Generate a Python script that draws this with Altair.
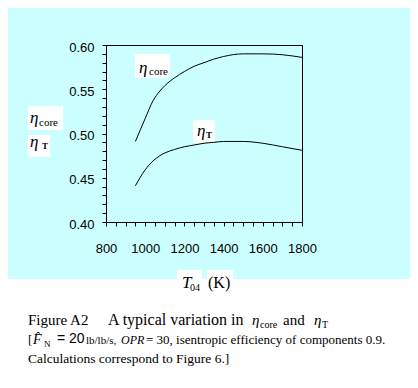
import altair as alt
import pandas as pd

# ---- data ----
t04 = [950, 1000, 1040, 1075, 1100, 1150, 1200, 1250, 1300, 1350, 1400, 1500, 1600, 1700, 1800]
eta_core = [0.491, 0.517, 0.537, 0.548, 0.554, 0.563, 0.570, 0.576, 0.580, 0.584, 0.587, 0.590, 0.590, 0.589, 0.586]
eta_t = [0.441, 0.459, 0.469, 0.475, 0.478, 0.482, 0.485, 0.487, 0.489, 0.490, 0.491, 0.491, 0.489, 0.485, 0.481]

x_ticks = list(range(800, 1801, 50))
y_ticks = [round(0.40 + 0.01 * i, 2) for i in range(21)]

rows = []
for t, a, b in zip(t04, eta_core, eta_t):
    rows.append({"T": t, "eta": a, "s": "core"})
    rows.append({"T": t, "eta": b, "s": "T"})
df = pd.DataFrame(rows)

SERIF = "Liberation Serif"
SANS = "Liberation Sans"


def txt(s, x, y, size, style="normal", font=SERIF, weight="normal"):
    return alt.Chart(alt.Data(values=[{}])).mark_text(
        align="left", baseline="alphabetic", fontSize=size, fontStyle=style,
        font=font, fontWeight=weight, color="black"
    ).encode(x=alt.value(x), y=alt.value(y), text=alt.value(s))


def box(x, x2, y, y2, color="white"):
    return alt.Chart(alt.Data(values=[{}])).mark_rect(color=color).encode(
        x=alt.value(x), x2=alt.value(x2), y=alt.value(y), y2=alt.value(y2)
    )


lines = alt.Chart(df).mark_line(color="black", strokeWidth=1, interpolate="monotone").encode(
    x=alt.X("T:Q", scale=alt.Scale(domain=[800, 1800], nice=False),
            axis=alt.Axis(values=x_ticks, format="d", title=None,
                          labelExpr="datum.value % 200 == 0 ? datum.label : ''",
                          labelPadding=16, labelFlush=False)),
    y=alt.Y("eta:Q", scale=alt.Scale(domain=[0.40, 0.60], nice=False, zero=False),
            axis=alt.Axis(values=y_ticks, title=None,
                          labelExpr="round(datum.value*100) % 5 == 0 ? format(datum.value, '.2f') : ''",
                          labelPadding=8, labelOffset=2)),
    detail="s:N",
)

layers = [
    box(-98, 304, 234, 331),
    # in-plot labels
    box(29, 64, 9, 33), txt("η", 33, 28, 17, "italic"), txt("core", 43, 30, 11),
    box(87, 109, 75, 98), txt("η", 91, 91, 17, "italic"), txt("T", 100, 93, 9, weight="bold"),
    # y-axis label
    box(-78, -43, 61, 85), txt("η", -76, 78, 17, "italic"), txt("core", -67, 81, 11),
    box(-78, -56, 90, 112), txt("η", -76, 102, 17, "italic"), txt("T", -64, 104, 9, weight="bold"),
    # x-axis title
    box(71, 96, 225, 250), txt("T", 76, 243, 17, "italic"), txt("04", 84, 246, 10),
    box(101, 127, 225, 250), txt("(K)", 102, 243, 16),
    # caption
    txt("Figure A2", -78, 280, 15),
    txt("A typical variation in", 2, 280, 16),
    txt("η", 146, 280, 15, "italic"), txt("core", 154, 283, 10),
    txt("and", 177, 280, 15),
    txt("η", 208, 280, 15, "italic"), txt("T", 216, 283, 10),
    txt("[", -78, 299, 13),
    txt("F̂", -73, 299, 14, "italic"), txt("N", -62, 302, 9),
    txt("= 20", -49, 298, 14, font=SANS),
    txt("lb/lb/s,", -20, 299, 11),
    txt("OPR", 15, 299, 12, "italic"),
    txt("= 30, isentropic efficiency of components 0.9.", 40, 299, 13),
    txt("Calculations correspond to Figure 6.]", -78, 318, 13.5),
    lines,
]

chart = alt.layer(*layers).properties(
    width=196, height=177,
    autosize=alt.AutoSizeParams(type="none"),
    padding={"left": 98, "top": 37, "right": 108, "bottom": 154},
).configure(background="#CCFFFF").configure_view(
    stroke="black", strokeWidth=1
).configure_axis(
    grid=False, domainColor="black", tickColor="black", labelColor="black",
    labelFont=SANS, labelFontSize=13, tickSize=4, labelOverlap=False, labelBound=False,
)

chart.save("out.html", embed_options={"renderer": "svg", "actions": False})
